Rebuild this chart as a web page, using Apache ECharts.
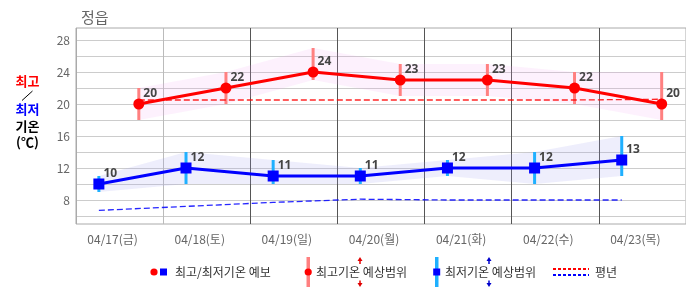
<!DOCTYPE html>
<html><head><meta charset="utf-8">
<script src="https://cdn.jsdelivr.net/npm/echarts@6/dist/echarts.min.js"></script>
<style>html,body{margin:0;padding:0;background:#fff}#c{width:686px;height:295px}</style>
</head><body><div id="c"></div>
<script>
// ---- data ----
const dayLabels = ['04/17(금)','04/18(토)','04/19(일)','04/20(월)','04/21(화)','04/22(수)','04/23(목)'];
const maxTemp   = [20, 22, 24, 23, 23, 22, 20];
const maxLow    = [18, 20, 23, 21, 21, 20, 18];
const maxHigh   = [22, 24, 27, 25, 25, 24, 24];
const minTemp   = [10, 12, 11, 11, 12, 12, 13];
const minLow    = [9, 10, 10, 10, 11, 10, 11];
const minHigh   = [11, 14, 13, 12, 13, 14, 16];
const maxNormal = [20.5, 20.5, 20.5, 20.5, 20.5, 20.5, 20.6];
const minNormal = [6.7, 7.2, 7.7, 8.1, 8.0, 8.0, 8.0];
const yGridTicks  = [6, 8, 10, 12, 14, 16, 18, 20, 22, 24, 26, 28];
const yLabelTicks = [8, 12, 16, 20, 24, 28];
const MAX_HOUR = 17.3;  // time of day of the daily maximum
const MIN_HOUR = 6.3;   // time of day of the daily minimum

// ---- build ----
const xMax = i => i + MAX_HOUR / 24;
const xMin = i => i + MIN_HOUR / 24;
const FONT = '"Noto Sans CJK KR", "Noto Sans", sans-serif';

const pts = (arr, fx) => arr.map((v, i) => [fx(i), v]);
const range = (lo, hi, fx) => lo.map((v, i) => [fx(i), v, hi[i]]);

function errBar(color) {
  return function (params, api) {
    const p1 = api.coord([api.value(0), api.value(1)]);
    const p2 = api.coord([api.value(0), api.value(2)]);
    return { type: 'line', shape: { x1: p1[0], y1: p1[1], x2: p2[0], y2: p2[1] },
             style: { stroke: color, lineWidth: 3 } };
  };
}
function band(lo, hi, fx, color) {
  return function (params, api) {
    if (params.dataIndex !== 0) return null;
    const top = hi.map((v, i) => api.coord([fx(i), v]));
    const bot = lo.map((v, i) => api.coord([fx(i), v])).reverse();
    return { type: 'polygon', shape: { points: top.concat(bot) }, style: { fill: color } };
  };
}

const valueLabel = {
  show: true, position: 'right', distance: 0, offset: [-1, -10],
  formatter: p => p.value[1], fontFamily: '"Noto Sans", sans-serif',
  fontWeight: 'bold', fontSize: 12, color: '#444'
};

const chart = echarts.init(document.getElementById('c'), null, { renderer: 'canvas' });

const legendY = 272;
const txt = (text, x, y, fill, font, align) => ({
  type: 'text', style: { text, x, y, fill, font, align: align || 'left', verticalAlign: 'middle' }, z: 100
});
function arrow(x, y1, y2, color) {
  const dir = y2 < y1 ? -1 : 1;
  return [
    { type: 'line', shape: { x1: x, y1: y1, x2: x, y2: y2 - dir * 2 }, style: { stroke: color, lineWidth: 1.5 }, z: 100 },
    { type: 'polygon', shape: { points: [[x - 2.5, y2 - dir * 4], [x + 2.5, y2 - dir * 4], [x, y2]] }, style: { fill: color }, z: 100 }
  ];
}

chart.setOption({
  animation: false,
  backgroundColor: '#fff',
  title: {
    text: '정읍', left: 76, top: 5,
    textStyle: { fontFamily: FONT, fontSize: 15, fontWeight: 'normal', color: '#666' }
  },
  grid: { left: 76, right: 0, top: 28, height: 196, show: true, borderColor: '#aaa', borderWidth: 1 },
  xAxis: [{
    type: 'value', min: 0, max: 7, interval: 1,
    axisLine: { show: false }, axisTick: { show: false }, axisLabel: { show: false },
    splitLine: { lineStyle: { width: 1, color: ['#aaa', '#bbb', '#555', '#555', '#555', '#555', '#555', '#aaa'] } }
  }, {
    type: 'category', data: dayLabels, boundaryGap: true, position: 'bottom',
    axisLine: { show: false }, axisTick: { show: false }, splitLine: { show: false },
    axisLabel: { color: '#666', fontSize: 12, fontFamily: FONT, margin: 9, padding: [0, 14, 0, 0] }
  }],
  yAxis: {
    type: 'value', min: 5, max: 29.5,
    axisLine: { show: false },
    axisTick: { show: false, customValues: yGridTicks },
    axisLabel: { customValues: yLabelTicks, color: '#666', fontSize: 12, fontFamily: FONT, margin: 6 },
    splitLine: { lineStyle: { color: '#ccc', width: 1 } }
  },
  series: [
    // bands
    { type: 'custom', data: range(maxLow, maxHigh, xMax), encode: { x: 0, y: [1, 2] }, silent: true,
      renderItem: band(maxLow, maxHigh, xMax, 'rgba(240,160,240,0.15)') },
    { type: 'custom', data: range(minLow, minHigh, xMin), encode: { x: 0, y: [1, 2] }, silent: true,
      renderItem: band(minLow, minHigh, xMin, 'rgba(160,160,240,0.18)') },
    // normals
    { type: 'line', data: pts(maxNormal, xMax), symbol: 'none',
      lineStyle: { color: '#ff0000', width: 1.3, type: [6, 3], opacity: 0.85 } },
    { type: 'line', data: pts(minNormal, xMin), symbol: 'none',
      lineStyle: { color: '#0000ff', width: 1.3, type: [6, 3], opacity: 0.85 } },
    // range bars
    { type: 'custom', data: range(maxLow, maxHigh, xMax), renderItem: errBar('#ff8080'), encode: { x: 0, y: [1, 2] } },
    { type: 'custom', data: range(minLow, minHigh, xMin), renderItem: errBar('#1fb0ff'), encode: { x: 0, y: [1, 2] } },
    // main lines
    { type: 'line', data: pts(maxTemp, xMax), symbol: 'circle', symbolSize: 11,
      itemStyle: { color: '#ff0000' }, lineStyle: { color: '#ff0000', width: 3 }, label: valueLabel, z: 5 },
    { type: 'line', data: pts(minTemp, xMin), symbol: 'rect', symbolSize: 11,
      itemStyle: { color: '#0000ff' }, lineStyle: { color: '#0000ff', width: 3 }, label: valueLabel, z: 5 }
  ],
  graphic: [
    // left axis title
    txt('최고', 27.5, 81, '#ff0000', 'bold 13px ' + FONT, 'center'),
    { type: 'line', shape: { x1: 22, y1: 100.5, x2: 32.5, y2: 91 }, style: { stroke: '#000', lineWidth: 1 } },
    txt('최저', 27.5, 109.5, '#0000ff', 'bold 13px ' + FONT, 'center'),
    txt('기온', 27.5, 126, '#000', 'bold 13px ' + FONT, 'center'),
    txt('(℃)', 27.5, 142, '#000', 'bold 13px ' + FONT, 'center'),
    // legend item 1
    { type: 'circle', shape: { cx: 154, cy: legendY, r: 3.6 }, style: { fill: '#ff0000' }, z: 100 },
    { type: 'rect', shape: { x: 160, y: legendY - 3.5, width: 7, height: 7 }, style: { fill: '#0000ff' }, z: 100 },
    txt('최고/최저기온 예보', 175, legendY, '#333', '12px ' + FONT),
    // legend item 2
    { type: 'rect', shape: { x: 306.5, y: 257, width: 3.5, height: 30 }, style: { fill: '#ff8080' }, z: 100 },
    { type: 'circle', shape: { cx: 308.2, cy: legendY, r: 3.6 }, style: { fill: '#ff0000' }, z: 100 },
    ...arrow(360, 264, 257, '#e00000'),
    ...arrow(360, 280.5, 287, '#e00000'),
    txt('최고기온 예상범위', 316, legendY, '#333', '12px ' + FONT),
    // legend item 3
    { type: 'rect', shape: { x: 435, y: 257, width: 3.5, height: 30 }, style: { fill: '#1fb0ff' }, z: 100 },
    { type: 'rect', shape: { x: 433.2, y: legendY - 3.5, width: 7, height: 7 }, style: { fill: '#0000ff' }, z: 100 },
    ...arrow(489, 264, 257, '#0000cc'),
    ...arrow(489, 280.5, 287, '#0000cc'),
    txt('최저기온 예상범위', 445, legendY, '#333', '12px ' + FONT),
    // legend item 4
    { type: 'line', shape: { x1: 553, y1: 269, x2: 589, y2: 269 }, style: { stroke: '#ff0000', lineWidth: 2, lineDash: [3, 2] }, z: 100 },
    { type: 'line', shape: { x1: 553, y1: 275, x2: 589, y2: 275 }, style: { stroke: '#0000ff', lineWidth: 2, lineDash: [3, 2] }, z: 100 },
    txt('평년', 595, legendY, '#333', '12px ' + FONT)
  ]
});
</script>
</body></html>
